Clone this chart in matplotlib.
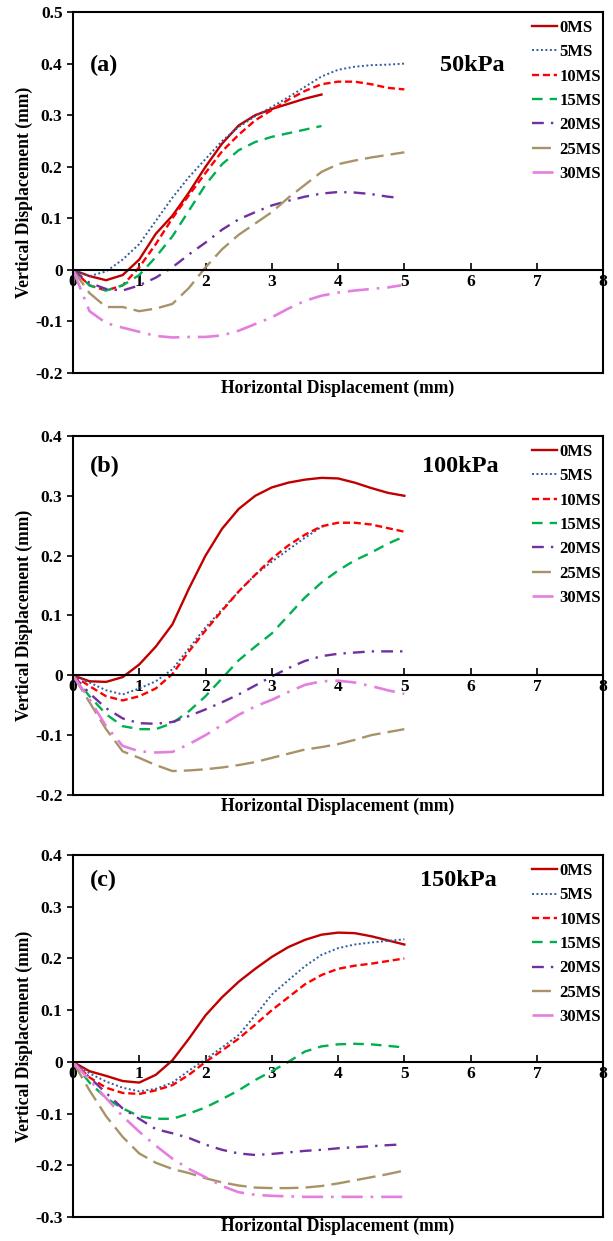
import matplotlib.pyplot as plt

plt.rcParams['font.family'] = ['Liberation Serif', 'DejaVu Serif']
plt.rcParams['font.weight'] = 'bold'

# series styling (Excel-like)
labels = ['0MS', '5MS', '10MS', '15MS', '20MS', '25MS', '30MS']
colors = ['#C00000', '#2F5D9E', '#FF0000', '#00B050', '#7030A0', '#A89368', '#E57FDF']
styles = ['-', (0, (1, 1.3)), (0, (3, 1.6)), (0, (4.5, 3)), (0, (5, 3, 1, 3)),
          (0, (8, 3)), (0, (8, 3, 1, 3))]
widths = [1.7, 1.4, 1.7, 1.7, 1.7, 1.7, 1.9]

x_grid = [0, 0.25, 0.5, 0.75, 1.0, 1.25, 1.5, 1.75, 2.0, 2.25, 2.5,
          2.75, 3.0, 3.25, 3.5, 3.75, 4.0, 4.25, 4.5, 4.75, 5.0]

# (a) 50 kPa
a_x = [x_grid[:16], x_grid, x_grid, x_grid[:16], x_grid[:20] + [4.9], x_grid, x_grid[:20] + [4.95]]
a_y = [
    [0, -0.012, -0.02, -0.01, 0.02, 0.07, 0.105, 0.15, 0.2, 0.245, 0.28, 0.3, 0.312, 0.322, 0.332, 0.34],
    [0, -0.012, -0.003, 0.02, 0.05, 0.095, 0.14, 0.18, 0.215, 0.25, 0.277, 0.298, 0.316, 0.335, 0.355,
     0.375, 0.388, 0.394, 0.397, 0.398, 0.40],
    [0, -0.03, -0.04, -0.03, 0.005, 0.05, 0.1, 0.145, 0.188, 0.23, 0.262, 0.29, 0.31, 0.33, 0.347,
     0.36, 0.365, 0.365, 0.36, 0.353, 0.35],
    [0, -0.03, -0.04, -0.03, -0.01, 0.025, 0.065, 0.115, 0.165, 0.205, 0.232, 0.248, 0.258, 0.265,
     0.272, 0.279],
    [0, -0.025, -0.037, -0.04, -0.03, -0.015, 0.005, 0.03, 0.053, 0.078, 0.098, 0.112, 0.125, 0.134,
     0.142, 0.148, 0.151, 0.15, 0.147, 0.142, 0.14],
    [0, -0.045, -0.072, -0.072, -0.08, -0.075, -0.066, -0.035, 0.005, 0.04, 0.068, 0.09, 0.112, 0.14,
     0.165, 0.19, 0.205, 0.212, 0.218, 0.223, 0.228],
    [0, -0.08, -0.103, -0.112, -0.12, -0.128, -0.131, -0.13, -0.13, -0.127, -0.118, -0.105, -0.092,
     -0.075, -0.06, -0.05, -0.044, -0.04, -0.037, -0.034, -0.03],
]

# (b) 100 kPa
b_x = [x_grid, x_grid[:16] + [3.85], x_grid, x_grid, x_grid, x_grid, x_grid]
b_y = [
    [0, -0.01, -0.011, -0.003, 0.018, 0.048, 0.085, 0.145, 0.2, 0.245, 0.278, 0.3, 0.314, 0.322,
     0.327, 0.33, 0.329, 0.322, 0.313, 0.305, 0.3],
    [0, -0.012, -0.025, -0.032, -0.022, -0.01, 0.01, 0.045, 0.08, 0.11, 0.14, 0.168, 0.19, 0.21,
     0.23, 0.248, 0.252],
    [0, -0.018, -0.035, -0.042, -0.035, -0.022, 0.002, 0.04, 0.075, 0.108, 0.14, 0.168, 0.195, 0.217,
     0.235, 0.249, 0.255, 0.255, 0.252, 0.246, 0.24],
    [0, -0.035, -0.065, -0.085, -0.09, -0.09, -0.08, -0.06, -0.035, -0.005, 0.025, 0.048, 0.07, 0.1,
     0.13, 0.155, 0.175, 0.192, 0.205, 0.22, 0.232],
    [0, -0.03, -0.055, -0.072, -0.08, -0.081, -0.078, -0.068, -0.057, -0.045, -0.032, -0.017, -0.002,
     0.012, 0.024, 0.032, 0.036, 0.038, 0.04, 0.04, 0.04],
    [0, -0.045, -0.09, -0.127, -0.138, -0.15, -0.16, -0.159, -0.157, -0.154, -0.15, -0.145, -0.138,
     -0.131, -0.124, -0.12, -0.115, -0.108, -0.1, -0.095, -0.09],
    [0, -0.04, -0.085, -0.118, -0.127, -0.129, -0.128, -0.115, -0.1, -0.083, -0.066, -0.052, -0.041,
     -0.028, -0.016, -0.01, -0.009, -0.012, -0.018, -0.025, -0.031],
]

# (c) 150 kPa
c_x = [x_grid, x_grid, x_grid, x_grid, x_grid[:20] + [4.9], x_grid, x_grid]
c_y = [
    [0, -0.018, -0.027, -0.037, -0.04, -0.025, 0.003, 0.045, 0.09, 0.125, 0.155, 0.18, 0.203, 0.222,
     0.236, 0.246, 0.25, 0.249, 0.243, 0.235, 0.227],
    [0, -0.022, -0.038, -0.05, -0.057, -0.052, -0.04, -0.017, 0.005, 0.028, 0.052, 0.09, 0.13, 0.158,
     0.185, 0.207, 0.22, 0.227, 0.231, 0.234, 0.237],
    [0, -0.03, -0.05, -0.06, -0.062, -0.055, -0.045, -0.025, 0.0, 0.022, 0.045, 0.072, 0.1, 0.125,
     0.15, 0.168, 0.18, 0.186, 0.19, 0.195, 0.2],
    [0, -0.04, -0.07, -0.09, -0.105, -0.11, -0.11, -0.1, -0.088, -0.072, -0.055, -0.035, -0.018, 0.0,
     0.02, 0.03, 0.034, 0.035, 0.034, 0.031, 0.028],
    [0, -0.03, -0.06, -0.09, -0.11, -0.13, -0.138, -0.147, -0.16, -0.17, -0.177, -0.18, -0.178, -0.175,
     -0.172, -0.17, -0.167, -0.165, -0.163, -0.161, -0.16],
    [0, -0.055, -0.105, -0.145, -0.177, -0.195, -0.207, -0.215, -0.225, -0.233, -0.239, -0.243, -0.244,
     -0.244, -0.243, -0.24, -0.235, -0.229, -0.223, -0.217, -0.21],
    [0, -0.035, -0.07, -0.105, -0.135, -0.162, -0.187, -0.207, -0.223, -0.24, -0.252, -0.257, -0.259,
     -0.26, -0.261, -0.261, -0.261, -0.261, -0.261, -0.261, -0.261],
]

# tag, load, x, y, ylim, yticks, axes rect, tag/load y, load x, xlabel y
panels = [
    ('(a)', '50kPa', a_x, a_y, [-0.2, 0.5], [-0.2, -0.1, 0, 0.1, 0.2, 0.3, 0.4, 0.5],
     [0.119, 0.6994, 0.865, 0.2909], 0.853, 0.692, -0.042),
    ('(b)', '100kPa', b_x, b_y, [-0.2, 0.4], [-0.2, -0.1, 0, 0.1, 0.2, 0.3, 0.4],
     [0.119, 0.3594, 0.865, 0.2893], 0.914, 0.659, -0.031),
    ('(c)', '150kPa', c_x, c_y, [-0.3, 0.4], [-0.3, -0.2, -0.1, 0, 0.1, 0.2, 0.3, 0.4],
     [0.119, 0.0193, 0.865, 0.2917], 0.931, 0.655, -0.025),
]

fig = plt.figure(figsize=(6.13, 12.41), dpi=100)

for tag, load, xs, ys, ylim, yticks, rect, ty, lx, xly in panels:
    ax = fig.add_axes(rect)
    for x, y, lab, c, ls, lw in zip(xs, ys, labels, colors, styles, widths):
        ax.plot(x, y, color=c, linestyle=ls, lw=lw, label=lab)

    ax.set_xlim(0, 8)
    ax.set_ylim(*ylim)
    ax.set_xticks(range(9))
    ax.set_yticks(yticks)
    ax.set_yticklabels(['0' if v == 0 else f'{v:g}' for v in yticks])

    # x axis runs through y = 0, frame still closed at the bottom
    for s in ax.spines.values():
        s.set_linewidth(1.5)
    ax.spines['bottom'].set_position(('data', 0))
    ax.plot([0, 1], [0, 0], transform=ax.transAxes, color='black', lw=1.5, clip_on=False)

    ax.tick_params(axis='x', direction='in', length=5, width=1.2, pad=3, labelsize=12.5)
    ax.tick_params(axis='y', direction='out', length=4, width=1.2, labelsize=12.5)
    for t in ax.get_xticklabels() + ax.get_yticklabels():
        t.set_fontweight('bold')

    ax.text(0.5, xly, 'Horizontal Displacement (mm)', transform=ax.transAxes,
            ha='center', va='center', fontsize=12.7, fontweight='bold')
    ax.set_ylabel('Vertical Displacement (mm)', fontsize=12.7, fontweight='bold')
    ax.yaxis.set_label_coords(-0.075, 0.5)

    ax.text(0.032, ty, tag, transform=ax.transAxes, fontsize=17.5, fontweight='bold', va='center')
    ax.text(lx, ty, load, transform=ax.transAxes, fontsize=17.5, fontweight='bold', va='center')

    ax.legend(loc='upper left', bbox_to_anchor=(0.866, 0.978), frameon=False,
              borderaxespad=0, borderpad=0, handlelength=1.5, handletextpad=0.15,
              labelspacing=0.5, prop={'size': 12, 'weight': 'bold'})

fig.savefig('out.png', dpi=100)
